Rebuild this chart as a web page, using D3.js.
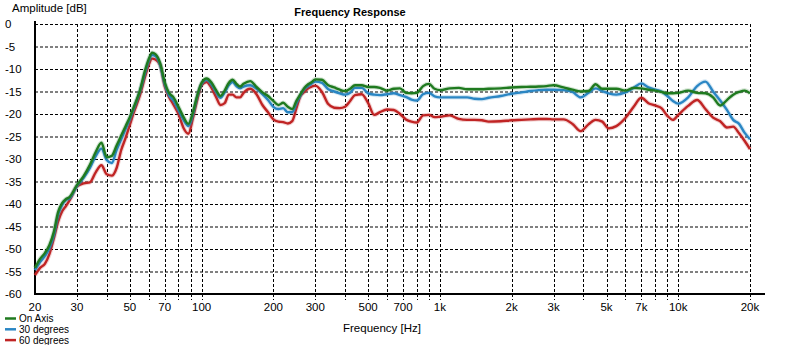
<!DOCTYPE html>
<html><head><meta charset="utf-8">
<script src="https://cdn.jsdelivr.net/npm/d3@7"></script>
<style>
html,body{margin:0;padding:0;background:#fff;}
svg{display:block;font-family:"Liberation Sans",Arial,sans-serif;}
</style></head>
<body><svg id="chart" width="800" height="345"></svg>
<script>
const freqs = [20,21,22,23,24,25,26,27,28,30,32,34,36,38,40,42,44,46,48,50,52,55,58,60,62,64,67,70,73,76,80,84,88,92,96,100,105,110,115,120,125,130,135,140,145,150,160,170,180,190,200,210,220,230,240,250,260,270,280,290,300,320,340,360,380,400,420,440,470,500,530,560,600,640,680,720,760,800,850,900,950,1000,1100,1200,1300,1400,1500,1600,1800,2000,2200,2400,2600,2800,3000,3300,3600,3900,4200,4500,4800,5100,5500,6000,6500,7000,7500,8000,8500,9000,9500,10000,11000,12000,13000,14000,15000,16000,17000,18000,19000,20000];

const onAxis = [-54.2,-52.2,-50.9,-49.1,-46.2,-41.8,-39.8,-38.9,-38.4,-35.8,-33.8,-31.3,-28.4,-26.4,-29.6,-29.3,-27.0,-24.8,-22.7,-20.7,-18.4,-14.9,-10.2,-7.8,-6.4,-6.7,-8.7,-12.9,-15.3,-16.2,-18.4,-20.7,-22.2,-19.6,-15.8,-13.1,-12.1,-13.0,-14.7,-16.0,-14.8,-13.1,-12.4,-13.3,-13.9,-13.3,-12.7,-14.0,-15.2,-16.0,-17.1,-18.0,-17.5,-18.4,-18.9,-17.1,-15.6,-14.2,-13.4,-12.9,-12.3,-12.4,-13.6,-14.1,-14.6,-14.9,-14.4,-13.6,-13.6,-14.0,-14.0,-14.2,-14.8,-14.4,-14.3,-15.3,-15.4,-15.3,-13.8,-13.3,-14.4,-14.7,-14.3,-14.2,-14.5,-14.5,-14.5,-14.4,-14.3,-14.1,-14.0,-13.96,-13.9,-13.8,-13.6,-14.1,-14.6,-15.0,-14.9,-13.4,-14.4,-14.4,-14.4,-14.8,-14.2,-14.3,-14.6,-14.8,-15.1,-15.4,-15.4,-15.3,-14.8,-15.3,-15.4,-16.3,-18.1,-16.9,-15.7,-15.1,-14.8,-15.4];

const deg30 = [-54.7,-52.9,-51.6,-49.8,-46.9,-42.4,-40.2,-39.1,-38.7,-36.0,-34.2,-32.0,-29.3,-27.7,-30.2,-30.9,-28.0,-25.6,-23.3,-21.1,-18.7,-15.1,-10.7,-8.2,-6.9,-7.1,-9.1,-13.3,-15.8,-16.9,-19.1,-21.3,-22.7,-20.0,-16.0,-13.3,-12.4,-13.4,-15.1,-16.4,-15.2,-13.6,-12.9,-13.8,-14.3,-13.9,-13.6,-14.4,-15.6,-16.9,-18.4,-18.9,-18.7,-19.6,-19.6,-17.6,-15.8,-14.4,-13.8,-13.2,-12.8,-13.1,-14.5,-15.0,-15.4,-15.7,-15.3,-14.2,-14.2,-15.4,-15.7,-15.8,-15.6,-15.4,-15.8,-16.2,-16.8,-17.0,-15.6,-15.3,-16.1,-16.3,-16.3,-16.3,-16.3,-16.6,-16.7,-16.4,-16.0,-15.5,-15.2,-14.9,-14.7,-14.6,-14.6,-14.7,-15.1,-16.3,-15.3,-14.3,-14.9,-15.4,-15.7,-15.2,-14.2,-13.2,-14.1,-14.6,-15.0,-16.0,-17.1,-17.7,-16.3,-13.8,-12.8,-15.0,-17.0,-19.1,-21.3,-22.2,-24.2,-25.6];

const deg60 = [-55.8,-54.2,-53.3,-51.1,-47.6,-43.9,-41.6,-40.4,-39.1,-36.1,-35.4,-35.2,-32.9,-31.4,-33.4,-33.7,-32.0,-28.0,-25.3,-22.4,-19.6,-16.0,-11.6,-9.1,-7.7,-7.9,-9.1,-13.8,-16.2,-17.8,-20.0,-23.1,-24.4,-20.9,-16.7,-13.6,-12.9,-14.2,-16.2,-18.0,-17.6,-15.7,-15.7,-16.3,-16.3,-15.3,-14.4,-15.6,-18.0,-19.6,-21.2,-21.7,-21.8,-22.1,-21.6,-18.7,-16.0,-15.1,-14.3,-13.9,-13.7,-15.1,-17.8,-18.6,-18.7,-18.4,-17.1,-15.8,-15.6,-17.6,-20.2,-19.6,-19.0,-19.1,-20.0,-21.2,-21.7,-21.9,-20.3,-20.2,-20.7,-20.6,-20.3,-21.1,-21.3,-21.3,-21.4,-21.7,-21.6,-21.4,-21.3,-21.2,-21.1,-21.1,-21.2,-21.2,-22.2,-23.8,-22.3,-21.3,-21.7,-23.2,-22.7,-20.9,-18.4,-16.4,-17.6,-18.1,-18.7,-20.4,-21.3,-20.2,-18.2,-16.9,-18.9,-20.8,-21.6,-23.0,-22.8,-24.3,-26.0,-27.8];

const seriesNames = ["On Axis","30 degrees","60 degrees"];
const seriesColors = ["#1f7a1f","#2a86c4","#c02424"];
const seriesValues = [onAxis, deg30, deg60];

const yTicks = [0,-5,-10,-15,-20,-25,-30,-35,-40,-45,-50,-55,-60];
const xGrid = [20,30,40,50,60,70,80,90,100,200,300,400,500,600,700,800,900,1000,2000,3000,4000,5000,6000,7000,8000,9000,10000,20000];
const xLabels = [[20,"20"],[30,"30"],[50,"50"],[70,"70"],[100,"100"],[200,"200"],[300,"300"],[500,"500"],[700,"700"],[1000,"1k"],[2000,"2k"],[3000,"3k"],[5000,"5k"],[7000,"7k"],[10000,"10k"],[20000,"20k"]];

const svg = d3.select("#chart");
const x = d3.scaleLog().domain([20,20000]).range([35,750]);
const y = d3.scaleLinear().domain([-60,0]).range([294,24]);

// grid
const g = svg.append("g");
g.selectAll("line.hg").data(yTicks.filter(d=>d>-60)).enter().append("line")
  .attr("x1",35).attr("x2",750).attr("y1",d=>y(d)+0.5).attr("y2",d=>y(d)+0.5)
  .attr("stroke","#000").attr("stroke-width",1).attr("stroke-dasharray","3,2");
g.selectAll("line.vg").data(xGrid.filter(d=>d>20)).enter().append("line")
  .attr("x1",d=>Math.round(x(d))+0.5).attr("x2",d=>Math.round(x(d))+0.5)
  .attr("y1",24).attr("y2",300)
  .attr("stroke","#000").attr("stroke-width",1).attr("stroke-dasharray","3,2");

// axes lines
svg.append("line").attr("x1",35).attr("x2",35).attr("y1",21).attr("y2",295).attr("stroke","#000").attr("stroke-width",2);
svg.append("line").attr("x1",34).attr("x2",765).attr("y1",294).attr("y2",294).attr("stroke","#000").attr("stroke-width",2);

// y labels
svg.selectAll("text.yl").data(yTicks).enter().append("text")
  .attr("x",5).attr("y",d=>y(d)).attr("dy","0.35em")
  .attr("font-size",11.5).attr("fill","#000").text(d=>d);
// x labels
svg.selectAll("text.xl").data(xLabels).enter().append("text")
  .attr("x",d=>x(d[0])).attr("y",311).attr("text-anchor","middle")
  .attr("font-size",11.5).attr("fill","#000").text(d=>d[1]);

svg.append("text").attr("x",12).attr("y",12).attr("font-size",11.5).text("Amplitude [dB]");
svg.append("text").attr("x",350).attr("y",16).attr("text-anchor","middle").attr("font-size",11).attr("font-weight","bold").text("Frequency Response");
svg.append("text").attr("x",382).attr("y",332).attr("text-anchor","middle").attr("font-size",11.5).text("Frequency [Hz]");

// lines
const line = d3.line().x(d=>x(d[0])).y(d=>y(d[1])).curve(d3.curveMonotoneX);
[2,1,0].forEach(i=>{
  const data = freqs.map((f,j)=>[f,seriesValues[i][j]]);
  svg.append("path").datum(data).attr("d",line).attr("fill","none")
    .attr("stroke",seriesColors[i]).attr("stroke-opacity",0.2).attr("stroke-width",4.5);
  svg.append("path").datum(data).attr("d",line).attr("fill","none")
    .attr("stroke",seriesColors[i]).attr("stroke-width",2.4).attr("stroke-linejoin","round");
});

// legend
const leg = svg.append("g");
seriesNames.forEach((n,i)=>{
  const yy = 318.5 + i*10.8;
  leg.append("line").attr("x1",5).attr("x2",16).attr("y1",yy).attr("y2",yy).attr("stroke",seriesColors[i]).attr("stroke-width",2.5);
  leg.append("text").attr("x",19).attr("y",yy).attr("dy","0.35em").attr("font-size",10).text(n);
});
</script></body></html>
